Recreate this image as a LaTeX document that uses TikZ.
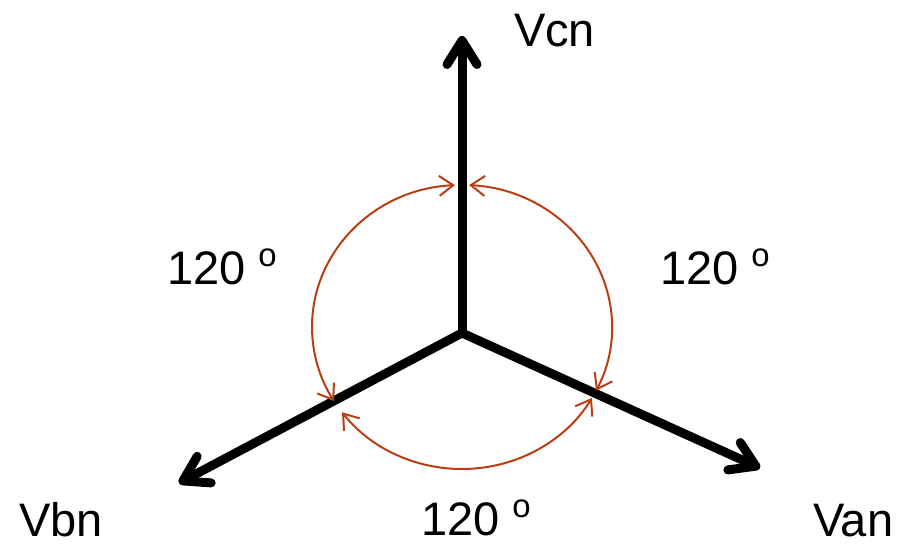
\documentclass[tikz,border=0pt]{standalone}
\usepackage{fontspec}
\setmainfont{Liberation Sans}
\usepackage{xcolor}
\usepackage{tikz}
\usetikzlibrary{arrows.meta}
\definecolor{phasered}{RGB}{187,62,18}
\newcommand{\degsign}{\textsuperscript{o}}

\begin{document}
\begin{tikzpicture}[x=0.5pt, y=0.5pt, line width=1pt,
  arm/.style={black, line width=4.5pt, line cap=round, line join=round,
    -{Straight Barb[length=12pt, width=15pt, line cap=round, line join=round]}},
  phase/.style={phasered, line width=1pt,
    {Straight Barb[length=7pt, width=10pt]}-{Straight Barb[length=7pt, width=10pt]}},
  lbl/.style={anchor=base west, inner sep=0pt, font=\fontsize{23.5}{28}\selectfont}]

  % -- page, same size as the reference -----------------------------------
  \useasboundingbox (0,0) rectangle (897,544);

  % -- star point and the three phasor tips --------------------------------
  \coordinate (n) at (462,211);
  \coordinate (c) at (462,508);
  \coordinate (a) at (760,76);
  \coordinate (b) at (179,61);
  \coordinate (e) at (462,217);

  % -- phasors -------------------------------------------------------------
  \draw[arm] (n) -- (c);
  \draw[arm] (n) -- (a);
  \draw[arm] (n) -- (b);

  % -- 120 degree arcs between the phasors ---------------------------------
  \foreach \s/\t in {92.7/211.5, 87.3/-26.6, 216.9/330}{
    \draw[phase] (e) ++(\s:150 and 142)
      arc[start angle=\s, end angle=\t, x radius=150, y radius=142];}

  % -- names and angles ----------------------------------------------------
  \node[lbl] (vcn) at (513,497) {Vcn};
  \node[lbl] (van) at (812,7) {Van};
  \node[lbl] (vbn) at (18,7) {Vbn};
  \node[lbl] (cb) at (166,259) {120 \degsign};
  \node[lbl] (ca) at (659,259) {120 \degsign};
  \node[lbl] (ab) at (420,8) {120 \degsign};

\end{tikzpicture}
\end{document}
